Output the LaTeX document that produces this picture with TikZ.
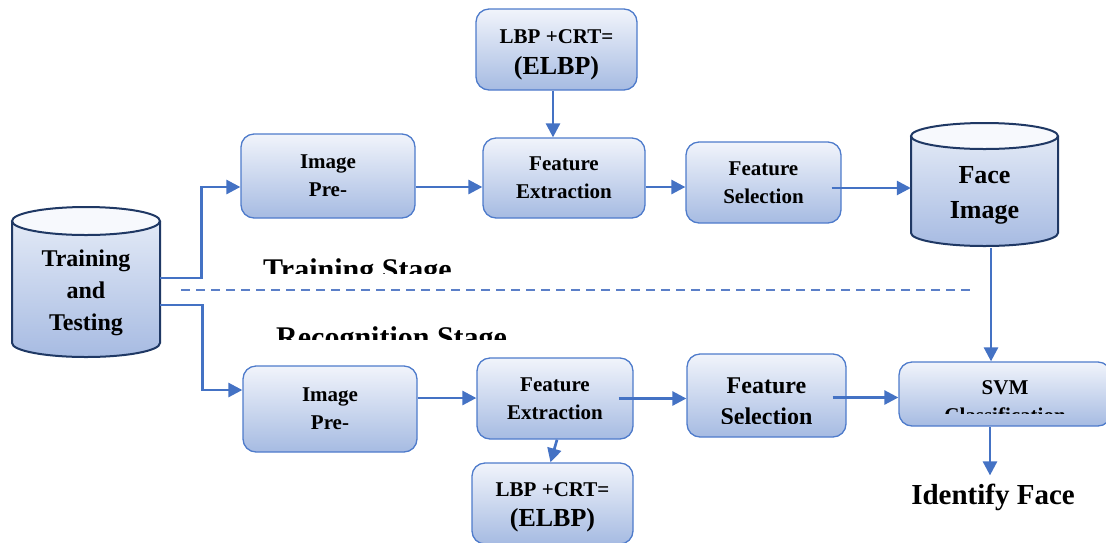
\documentclass[tikz,border=0pt]{standalone}
\usepackage{fontspec}
\setmainfont{Liberation Serif}
\usetikzlibrary{arrows.meta}
\definecolor{boxtop}{HTML}{F1F4FB}
\definecolor{boxbot}{HTML}{A6BBE2}
\definecolor{boxline}{HTML}{4E7BCB}
\definecolor{cylline}{HTML}{1F3864}
\definecolor{cyllid}{HTML}{F7F9FD}
\definecolor{cyltop}{HTML}{E2E9F6}
\definecolor{cylbot}{HTML}{A7BBE2}
\definecolor{flow}{HTML}{4472C4}
\definecolor{sep}{HTML}{5B7FC8}

\begin{document}
\begin{tikzpicture}[x=1pt,y=-1pt,
  box/.style={draw=boxline, line width=1.3pt, rounded corners=13pt,
    top color=boxtop, bottom color=boxbot, align=center, inner sep=0pt,
    font=\fontsize{21}{28}\selectfont\bfseries},
  boxtext/.style={align=center, inner sep=0pt, font=\fontsize{21}{28}\selectfont\bfseries},
  cyltext/.style={align=center, inner sep=0pt},
  stage/.style={inner sep=0pt, font=\fontsize{30}{36}\selectfont\bfseries},
  flowline/.style={draw=flow, line width=2.7pt},
  arr/.style={flowline, -{Triangle[length=14pt,width=14pt]}},
  cylbody/.style={top color=cyltop, bottom color=cylbot},
  cylrim/.style={draw=cylline, line width=2pt},
]
\useasboundingbox (0,0) rectangle (1106,542);

% ---------- training / testing database ----------
\shade[cylbody] (12,221) -- (12,343) arc[start angle=180,end angle=360,x radius=74pt,y radius=14pt] -- (160,221) -- cycle;
\draw[cylrim] (12,221) -- (12,343) arc[start angle=180,end angle=360,x radius=74pt,y radius=14pt] -- (160,221);
\draw[cylrim, fill=cyllid] (86,221) ellipse [x radius=74pt, y radius=14pt];
\node[cyltext, minimum width=148pt, minimum height=136pt,
  font=\fontsize{24}{32}\selectfont\bfseries] (train) at (86,290) {};
\node[cyltext, font=\fontsize{24}{32}\selectfont\bfseries] (traintext) at (86,293) {Training\\and\\Testing};

% ---------- face image database ----------
\shade[cylbody] (911,136) -- (911,233) arc[start angle=180,end angle=360,x radius=73.5pt,y radius=13pt] -- (1058,136) -- cycle;
\draw[cylrim] (911,136) -- (911,233) arc[start angle=180,end angle=360,x radius=73.5pt,y radius=13pt] -- (1058,136);
\draw[cylrim, fill=cyllid] (984.5,136) ellipse [x radius=73.5pt, y radius=13pt];
\node[cyltext, minimum width=147pt, minimum height=112pt] (face) at (984.5,192) {};
\node[cyltext, font=\fontsize{26}{35}\selectfont\bfseries] (facetext) at (984.5,195) {Face\\Image};

% ---------- training stage ----------
\node[box, minimum width=174pt, minimum height=84pt] (pre1) at (328,176) {Image\\Pre-};
\node[box, minimum width=162pt, minimum height=80pt] (fe1) at (564,178) {Feature\\Extraction};
\node[box, minimum width=161pt, minimum height=81pt] (lbp1) at (556.5,49.5) {};
\node[boxtext] (lbp1text) at (556.5,55)
  {LBP +CRT=\\[3pt]{\fontsize{26}{30}\selectfont (ELBP)}};
\node[box, minimum width=155pt, minimum height=81pt] (fs1) at (763.5,182.5) {Feature\\Selection};

% ---------- recognition stage ----------
\node[box, minimum width=174pt, minimum height=86pt] (pre2) at (330,409) {Image\\Pre-};
\node[box, minimum width=156pt, minimum height=81pt] (fe2) at (555,398.5) {Feature\\Extraction};
\node[box, minimum width=161pt, minimum height=81pt] (lbp2) at (552.5,503.5) {};
\node[boxtext] (lbp2text) at (552.5,507.5)
  {LBP +CRT=\\[2pt]{\fontsize{26}{30}\selectfont (ELBP)}};
\node[box, minimum width=159pt, minimum height=83pt] (fs2) at (766.5,395.5) {};
\begin{scope}
  \clip (687,354) rectangle (846,423);
  \node[boxtext, font=\fontsize{24}{31}\selectfont\bfseries] (fs2text) at (766.5,401) {Feature\\Selection};
\end{scope}
\node[box, minimum width=212pt, minimum height=64pt] (svm) at (1005,394) {};
\begin{scope}
  \clip (899,362) rectangle (1106,413);
  \node[boxtext] (svmtext) at (1005,402) {SVM\\Classification};
\end{scope}
\node[inner sep=8pt, anchor=base, font=\fontsize{29}{34}\selectfont\bfseries] (ident) at (993,504) {Identify Face};

% ---------- stage labels and separator ----------
\begin{scope}
  \clip (250,240) rectangle (480,273);
  \node[stage, anchor=base west] (trainstage) at (263,279) {Training Stage};
\end{scope}
\begin{scope}
  \clip (260,300) rectangle (520,339);
  \node[stage, anchor=base west] (recstage) at (276,347) {Recognition Stage};
\end{scope}
\coordinate (sepL) at (181,290);
\coordinate (sepR) at (970,290);
\draw[sep, line width=1.2pt, dash pattern=on 9pt off 6pt] (sepL) -- (sepR);

% ---------- connectors ----------
\draw[arr] ([yshift=12pt]train.east) -- ++(41,0) |- ([yshift=-11pt]pre1.west);
\draw[arr] ([yshift=-15pt]train.east) -- ++(42,0) |- ([yshift=19pt]pre2.west);

\draw[arr] ([yshift=-11pt]pre1.east) -- ([yshift=-11pt]pre1.east -| fe1.west);
\draw[arr] ([xshift=-3.5pt]lbp1.south) -- ([xshift=-3.5pt]lbp1.south |- fe1.north);
\draw[arr] ([yshift=-9pt]fe1.east) -- ([yshift=-9pt]fe1.east -| fs1.west);
\draw[arr] ([xshift=-10pt,yshift=-5.5pt]fs1.east) -- ([yshift=-5.5pt]fs1.east -| face.west);
\draw[arr] ([xshift=6.5pt]face.south) -- ([xshift=6.5pt]face.south |- svm.north);

\draw[arr] ([yshift=11pt]pre2.east) -- ([yshift=11pt]pre2.east -| fe2.west);
\draw[arr] ([xshift=2pt]fe2.south) -- ([xshift=-2pt]lbp2.north);
\draw[arr] ([xshift=-15pt]fe2.east) -- (fe2.east -| fs2.west);
\draw[arr] ([xshift=-14pt,yshift=-2pt]fs2.east) -- ([yshift=-2pt]fs2.east -| svm.west);
\draw[arr] ([xshift=-15pt]svm.south) -- ([xshift=-15pt]svm.south |- ident.north);
\end{tikzpicture}
\end{document}
